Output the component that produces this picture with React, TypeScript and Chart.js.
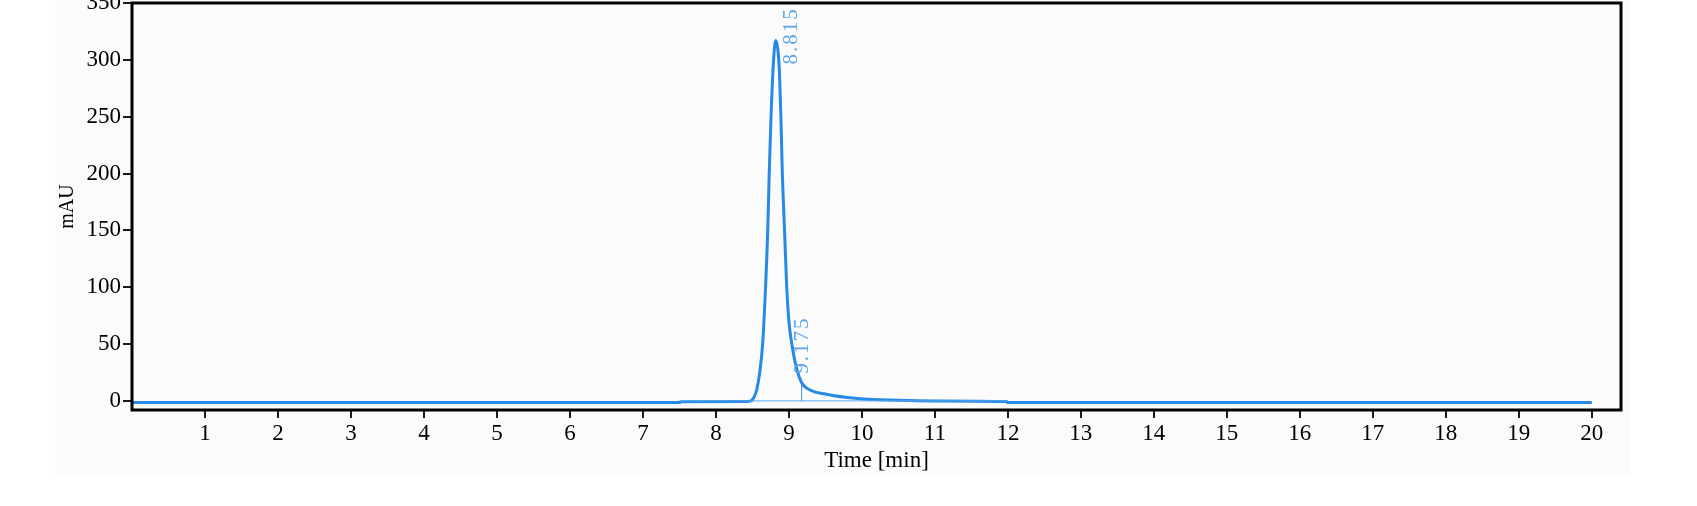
import React, { useEffect, useRef } from "react";
import { Chart, registerables } from "chart.js";

Chart.register(...registerables);

// Signal trace (time in min, absorbance in mAU)
const signalTime = [
  0, 7.5, 7.52, 8.4, 8.48, 8.52, 8.56, 8.6, 8.64, 8.68, 8.71, 8.73, 8.755, 8.79, 8.82,
  8.85, 8.87, 8.89, 8.91, 8.94, 8.97, 9.0, 9.04, 9.1, 9.175, 9.25, 9.35, 9.5, 9.62, 9.8,
  10.08, 10.5, 11, 11.98, 12.0, 20,
];
const signalValue = [
  -1.5, -1.5, -0.8, -0.6, 0, 3, 10, 25, 50, 100, 150, 200, 250, 300, 317,
  308, 290, 250, 200, 150, 100, 70, 50, 30, 16, 11, 8, 6, 4.5, 3,
  1.5, 0.5, 0, -0.6, -1.5, -1.5,
];

// Integration baseline and peak marker
const baselineTime = [7.5, 12];
const baselineValue = [0, 0];
const dropTime = [9.175, 9.175];
const dropValue = [0, 16];

// Peak labels
const peakTimes = [8.815, 9.175];
const peakHeights = [317, 16];
const peakLabels = ["8.815", "9.175"];

// Axis ticks
const xTicks = [1, 2, 3, 4, 5, 6, 7, 8, 9, 10, 11, 12, 13, 14, 15, 16, 17, 18, 19, 20];
const yTicks = [0, 50, 100, 150, 200, 250, 300, 350];

const FONT = "'Liberation Serif', 'DejaVu Serif', serif";
const LINE_BLUE = "#2689e6";
const THIN_BLUE = "#5aa6ea";

const toPoints = (xs: number[], ys: number[]) => xs.map((x, i) => ({ x, y: ys[i] }));

const frameAndLabels = {
  id: "frameAndLabels",
  afterDatasetsDraw(chart: any) {
    const { ctx, chartArea, scales } = chart;
    ctx.save();
    ctx.fillStyle = THIN_BLUE;
    ctx.font = `21px ${FONT}`;
    ctx.textAlign = "left";
    ctx.textBaseline = "middle";
    try {
      (ctx as any).letterSpacing = "2px";
    } catch (e) {}
    const offsets = [
      [16, 24],
      [1, -9],
    ];
    peakLabels.forEach((txt, i) => {
      const px = scales.x.getPixelForValue(peakTimes[i]) + offsets[i][0];
      const py = scales.y.getPixelForValue(peakHeights[i]) + offsets[i][1];
      ctx.save();
      ctx.beginPath();
      ctx.rect(chartArea.left, chartArea.top, chartArea.right - chartArea.left, chartArea.bottom - chartArea.top);
      ctx.clip();
      ctx.translate(px, py);
      ctx.rotate(-Math.PI / 2);
      ctx.fillText(txt, 0, 0);
      ctx.restore();
    });
    try {
      (ctx as any).letterSpacing = "0px";
    } catch (e) {}
    ctx.strokeStyle = "#000";
    ctx.lineWidth = 3;
    ctx.strokeRect(chartArea.left, chartArea.top, chartArea.right - chartArea.left, chartArea.bottom - chartArea.top);
    ctx.restore();
  },
};

export default function App() {
  const ref = useRef<HTMLCanvasElement | null>(null);

  useEffect(() => {
    if (!ref.current) return;
    const chart = new Chart(ref.current, {
      type: "line",
      data: {
        datasets: [
          {
            data: toPoints(baselineTime, baselineValue),
            borderColor: THIN_BLUE,
            borderWidth: 1,
            pointRadius: 0,
            tension: 0,
          },
          {
            data: toPoints(dropTime, dropValue),
            borderColor: "#3d8fd8",
            borderWidth: 1,
            pointRadius: 0,
            tension: 0,
          },
          {
            data: toPoints(signalTime, signalValue),
            borderColor: LINE_BLUE,
            borderWidth: 3,
            pointRadius: 0,
            cubicInterpolationMode: "monotone",
          },
        ],
      },
      options: {
        animation: false,
        responsive: false,
        maintainAspectRatio: false,
        events: [],
        layout: { padding: { top: 23, right: 76, left: 56, bottom: 31 } },
        plugins: { legend: { display: false }, tooltip: { enabled: false } },
        scales: {
          x: {
            type: "linear",
            min: 0,
            max: 20.4,
            afterBuildTicks: (axis: any) => {
              axis.ticks = xTicks.map((v) => ({ value: v }));
            },
            ticks: { color: "#000", font: { family: FONT, size: 23 }, padding: 2, maxRotation: 0, autoSkip: false },
            grid: { drawOnChartArea: false, drawTicks: true, tickLength: 8, color: "#1a1a1a", lineWidth: 2 },
            border: { display: false },
            title: { display: true, text: "Time [min]", color: "#000", font: { family: FONT, size: 23 }, padding: { top: 0, bottom: 0 } },
            afterFit: (axis: any) => {
              axis.height = 65;
            },
          },
          y: {
            type: "linear",
            min: -8,
            max: 350,
            afterBuildTicks: (axis: any) => {
              axis.ticks = yTicks.map((v) => ({ value: v }));
            },
            ticks: { color: "#000", font: { family: FONT, size: 23 }, padding: 2 },
            grid: { drawOnChartArea: false, drawTicks: true, tickLength: 9, color: "#1a1a1a", lineWidth: 2 },
            border: { display: false },
            title: { display: true, text: "mAU", color: "#000", font: { family: FONT, size: 20 }, padding: { top: 0, bottom: 0 } },
            afterFit: (axis: any) => {
              axis.width = 76;
            },
          },
        },
      },
      plugins: [frameAndLabels],
    });
    return () => chart.destroy();
  }, []);

  return (
    <div style={{ position: "fixed", left: 0, top: 0, width: 1697, height: 506, background: "#fff", overflow: "hidden" }}>
      <div style={{ position: "absolute", left: 55, top: 0, width: 1575, height: 475, background: "#fbfbfb" }} />
      <canvas ref={ref} width={1697} height={526} style={{ position: "absolute", left: 0, top: -20, width: 1697, height: 526 }} />
    </div>
  );
}
